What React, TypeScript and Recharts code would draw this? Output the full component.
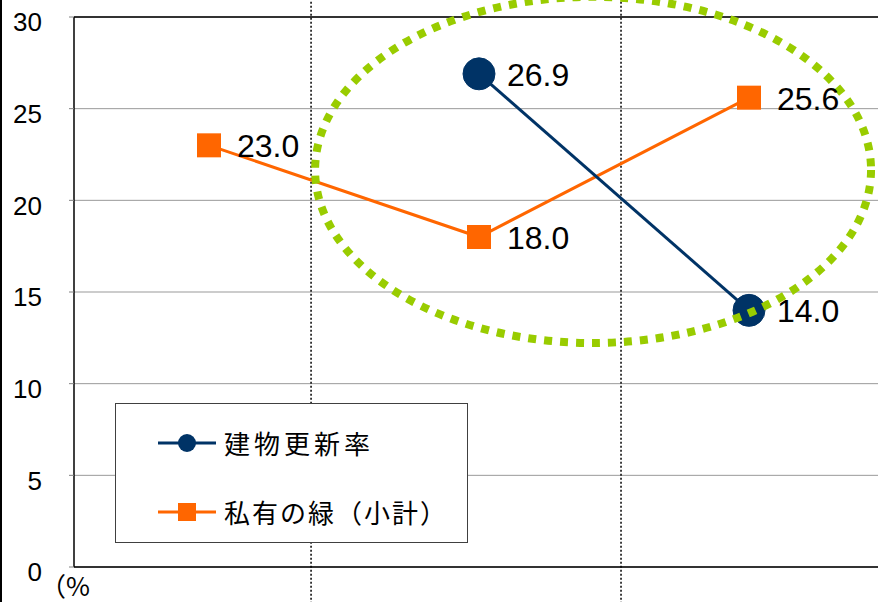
// 建物更新率と私有の緑の推移チャート

import { CartesianGrid, LabelList, Line, LineChart, ReferenceArea, ReferenceLine, XAxis, YAxis } from "recharts";

const periods = ["期間1", "期間2", "期間3"];
const renewalRate = [null, 26.9, 14.0];
const privateGreen = [23.0, 18.0, 25.6];
const yTicks = [0, 5, 10, 15, 20, 25, 30];

const data = periods.map((p, i) => ({
  period: p,
  x: i + 0.5,
  renewal: renewalRate[i],
  green: privateGreen[i],
}));

const NAVY = "#003366";
const ORANGE = "#FF6600";
const LIME = "#99CC00";
const FONT = "'Liberation Sans', Arial, sans-serif";
const JP_FONT = "'Noto Sans CJK JP', sans-serif";

const valueLabel = (props: any) => {
  const { x, y, value } = props;
  if (value == null) return null;
  return (
    <text x={x + 28} y={y} dy={12} fontSize={32} fontFamily={FONT} fill="#000" textAnchor="start">
      {Number(value).toFixed(1)}
    </text>
  );
};

const squareDot = (props: any) => {
  const { cx, cy, index } = props;
  if (cy == null) return <g key={index} />;
  return <rect key={index} x={cx - 12} y={cy - 12} width={24} height={24} fill={ORANGE} />;
};

const ellipseShape = (props: any) => {
  const { x, y, width, height } = props;
  return (
    <ellipse
      cx={x + width / 2}
      cy={y + height / 2}
      rx={width / 2}
      ry={height / 2}
      fill="none"
      stroke={LIME}
      strokeWidth={8}
      strokeDasharray="8 8"
    />
  );
};

function LegendBox() {
  return (
    <div
      style={{
        position: "absolute",
        left: 115,
        top: 403,
        width: 351,
        height: 138,
        border: "1px solid #404040",
        background: "#fff",
        fontFamily: JP_FONT,
        fontSize: 26,
        color: "#000",
      }}
    >
      <div style={{ position: "absolute", left: 40, top: 20, display: "flex", alignItems: "center" }}>
        <svg width={62} height={24}>
          <line x1={2} y1={12} x2={60} y2={12} stroke={NAVY} strokeWidth={3} />
          <circle cx={31} cy={12} r={9} fill={NAVY} />
        </svg>
        <span style={{ marginLeft: 6, letterSpacing: 4 }}>建物更新率</span>
      </div>
      <div style={{ position: "absolute", left: 40, top: 89, display: "flex", alignItems: "center" }}>
        <svg width={62} height={24}>
          <line x1={2} y1={12} x2={60} y2={12} stroke={ORANGE} strokeWidth={3} />
          <rect x={22} y={3} width={18} height={18} fill={ORANGE} />
        </svg>
        <span style={{ marginLeft: 6, letterSpacing: 2 }}>私有の緑（小計）</span>
      </div>
    </div>
  );
}

export default function App() {
  return (
    <div style={{ position: "absolute", left: 0, top: 0, width: 878, height: 602, overflow: "hidden", background: "#fff" }}>
      <div style={{ position: "absolute", left: 0, top: 0, width: 2, height: 602, background: "#000" }} />
      <LineChart width={890} height={602} data={data} margin={{ top: 17, right: 6, left: 0, bottom: 0 }}>
        <CartesianGrid vertical={false} stroke="#999" />
        <XAxis
          type="number"
          dataKey="x"
          domain={[0, 3]}
          tick={false}
          tickLine={false}
          axisLine={{ stroke: "#000", strokeWidth: 1.5 }}
          height={35}
        />
        <YAxis
          type="number"
          domain={[0, 30]}
          ticks={yTicks}
          width={74}
          interval={0}
          axisLine={{ stroke: "#000", strokeWidth: 1.5 }}
          tickLine={{ stroke: "#808080" }}
          tickSize={5}
          tickMargin={27}
          tick={{ fontSize: 26, fill: "#000", fontFamily: FONT, dy: 5 }}
        />
        <ReferenceLine y={30} stroke="#000" strokeWidth={1.5} />
        <ReferenceLine
          segment={[{ x: 0.878, y: -2 }, { x: 0.878, y: 32 }]}
          stroke="#000"
          strokeWidth={1.5}
          strokeDasharray="2 2"
          ifOverflow="visible"
        />
        <ReferenceLine
          segment={[{ x: 2.026, y: -2 }, { x: 2.026, y: 32 }]}
          stroke="#000"
          strokeWidth={1.5}
          strokeDasharray="2 2"
          ifOverflow="visible"
        />
        <Line
          dataKey="green"
          stroke={ORANGE}
          strokeWidth={3}
          dot={squareDot}
          activeDot={false}
          isAnimationActive={false}
        >
          <LabelList dataKey="green" content={valueLabel} />
        </Line>
        <Line
          dataKey="renewal"
          stroke={NAVY}
          strokeWidth={3}
          dot={{ r: 16, fill: NAVY, stroke: NAVY, strokeWidth: 1 }}
          activeDot={false}
          isAnimationActive={false}
        >
          <LabelList dataKey="renewal" content={valueLabel} />
        </Line>
        <ReferenceArea
          x1={0.893}
          x2={2.952}
          y1={12.22}
          y2={31.1}
          ifOverflow="visible"
          shape={ellipseShape}
          {...({ zIndex: 1000 } as any)}
        />
      </LineChart>
      <div style={{ position: "absolute", left: 40, top: 570, fontFamily: JP_FONT, fontSize: 26, lineHeight: "30px", color: "#000" }}>（%</div>
      <LegendBox />
    </div>
  );
}
